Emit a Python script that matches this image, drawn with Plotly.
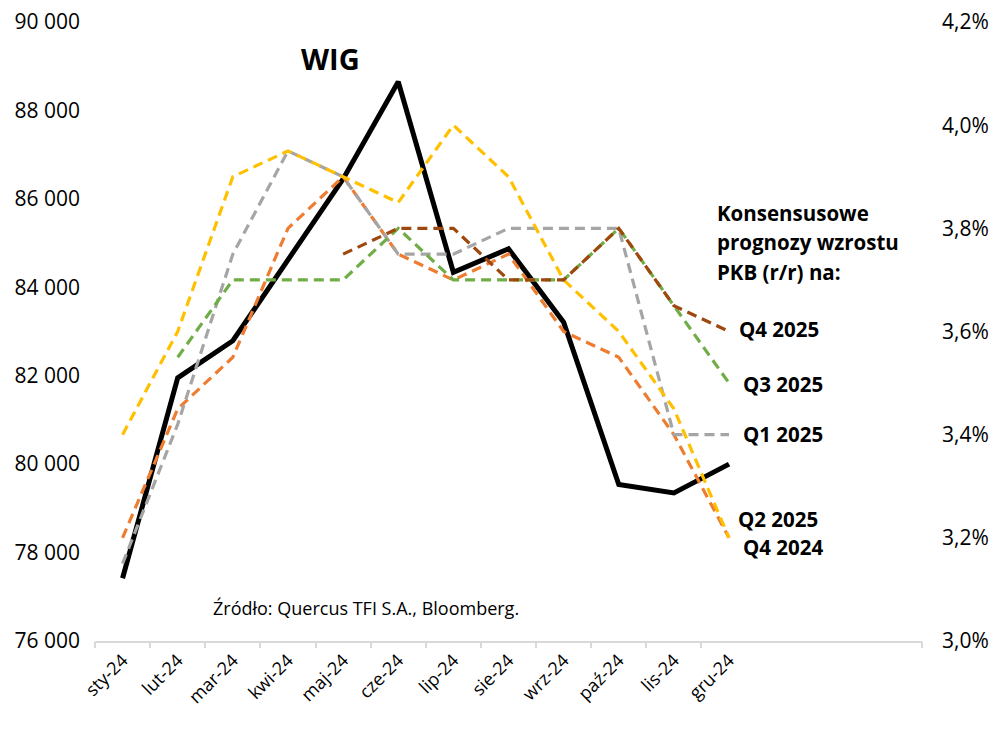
import plotly.graph_objects as go

months = ["sty-24", "lut-24", "mar-24", "kwi-24", "maj-24", "cze-24",
          "lip-24", "sie-24", "wrz-24", "paź-24", "lis-24", "gru-24"]
n_slots = 15  # category slots on the axis (12 months + 3 empty)
left_ticks = [76000, 78000, 80000, 82000, 84000, 86000, 88000, 90000]
right_ticks = [3.0, 3.2, 3.4, 3.6, 3.8, 4.0, 4.2]
right_labels = ["3,0%", "3,2%", "3,4%", "3,6%", "3,8%", "4,0%", "4,2%"]

wig = [77420, 81950, 82790, 84640, 86450, 88650, 84340, 84870, 83210, 79540, 79350, 80000]
q4_2024 = [3.20, 3.45, 3.55, 3.80, 3.90, 3.75, 3.70, 3.75, 3.60, 3.55, 3.40, 3.20]
q1_2025 = [3.15, 3.42, 3.75, 3.95, 3.90, 3.75, 3.75, 3.80, 3.80, 3.80, 3.40, 3.40]
q2_2025 = [3.40, 3.60, 3.90, 3.95, 3.90, 3.85, 4.00, 3.90, 3.70, 3.60, 3.45, 3.20]
q3_2025 = [None, 3.55, 3.70, 3.70, 3.70, 3.80, 3.70, 3.70, 3.70, 3.80, 3.65, 3.50]
q4_2025 = [None, None, None, None, 3.75, 3.80, 3.80, 3.70, 3.70, 3.80, 3.65, 3.60]

series = [
    ("Q4 2024", q4_2024, "#ED7D31"),
    ("Q1 2025", q1_2025, "#A5A5A5"),
    ("Q2 2025", q2_2025, "#FFC000"),
    ("Q3 2025", q3_2025, "#70AD47"),
    ("Q4 2025", q4_2025, "#9E480E"),
]

x = list(range(len(months)))
bounds = [i - 0.5 for i in range(len(months))] + [n_slots - 0.5]

fig = go.Figure()
fig.add_trace(go.Scatter(x=x, y=wig, mode="lines", name="WIG",
                         line=dict(color="#000000", width=5), yaxis="y"))
for name, vals, color in series:
    fig.add_trace(go.Scatter(x=x, y=vals, mode="lines", name=name, yaxis="y2",
                             line=dict(color=color, width=3.2, dash="10px,6px")))
fig.add_trace(go.Scatter(x=[None], y=[None], xaxis="x2", yaxis="y",
                         showlegend=False, hoverinfo="skip"))

FONT = "Open Sans"
fig.update_layout(
    template="none",
    width=995, height=728,
    margin=dict(l=87, r=81, t=14, b=95),
    plot_bgcolor="white", paper_bgcolor="white",
    showlegend=False,
    separators=", ",
    font=dict(family=FONT, color="#000000", size=18),
    xaxis=dict(range=[-0.5, n_slots - 0.5], tickmode="array", tickvals=x,
               ticktext=months, tickangle=-45, ticks="", showline=True,
               linecolor="#D9D9D9", linewidth=1.5, showgrid=False,
               zeroline=False, automargin=False,
               tickfont=dict(size=18, family=FONT)),
    xaxis2=dict(overlaying="x", anchor="y", range=[-0.5, n_slots - 0.5],
                tickmode="array", tickvals=bounds, ticks="outside", ticklen=6,
                tickcolor="#D9D9D9", tickwidth=1.5, showticklabels=False,
                showgrid=False, zeroline=False, showline=False, side="bottom",
                automargin=False),
    yaxis=dict(range=[left_ticks[0], left_ticks[-1]], tickmode="array",
               tickvals=left_ticks, tickformat=",d", ticklabeloverflow="allow",
               showgrid=False, zeroline=False, showline=False, ticks="",
               automargin=False,
               ticklabelstandoff=14, tickfont=dict(size=21, family=FONT)),
    yaxis2=dict(overlaying="y", side="right",
                range=[right_ticks[0], right_ticks[-1]],
                tickmode="array", tickvals=right_ticks, ticktext=right_labels,
                ticklabeloverflow="allow", showgrid=False, automargin=False,
                zeroline=False, showline=False, ticks="",
                ticklabelstandoff=19, tickfont=dict(size=21, family=FONT)),
)

bold = dict(family=FONT, size=20.5, color="#000000")
annots = [
    dict(text="<b>WIG</b>", x=3.78, y=89180, xref="x", yref="y",
         xanchor="center", yanchor="middle", font=dict(family=FONT, size=29)),
    dict(text="Źródło: Quercus TFI S.A., Bloomberg.", x=1.6, y=76750,
         xref="x", yref="y", xanchor="left", yanchor="middle",
         font=dict(family=FONT, size=18)),
    dict(text="<b>Konsensusowe</b>", x=10.75, y=3.83, xref="x", yref="y2",
         xanchor="left", yanchor="middle", font=bold),
    dict(text="<b>prognozy wzrostu</b>", x=10.75, y=3.773, xref="x", yref="y2",
         xanchor="left", yanchor="middle", font=bold),
    dict(text="<b>PKB (r/r) na:</b>", x=10.75, y=3.715, xref="x", yref="y2",
         xanchor="left", yanchor="middle", font=bold),
    dict(text="<b>Q4 2025</b>", x=11.15, y=3.605, xref="x", yref="y2",
         xanchor="left", yanchor="middle", font=bold),
    dict(text="<b>Q3 2025</b>", x=11.22, y=3.498, xref="x", yref="y2",
         xanchor="left", yanchor="middle", font=bold),
    dict(text="<b>Q1 2025</b>", x=11.22, y=3.401, xref="x", yref="y2",
         xanchor="left", yanchor="middle", font=bold),
    dict(text="<b>Q2 2025</b>", x=11.13, y=3.237, xref="x", yref="y2",
         xanchor="left", yanchor="middle", font=bold),
    dict(text="<b>Q4 2024</b>", x=11.22, y=3.183, xref="x", yref="y2",
         xanchor="left", yanchor="middle", font=bold),
]
for a in annots:
    a["showarrow"] = False
fig.update_layout(annotations=annots)

fig.write_html("out.html")
